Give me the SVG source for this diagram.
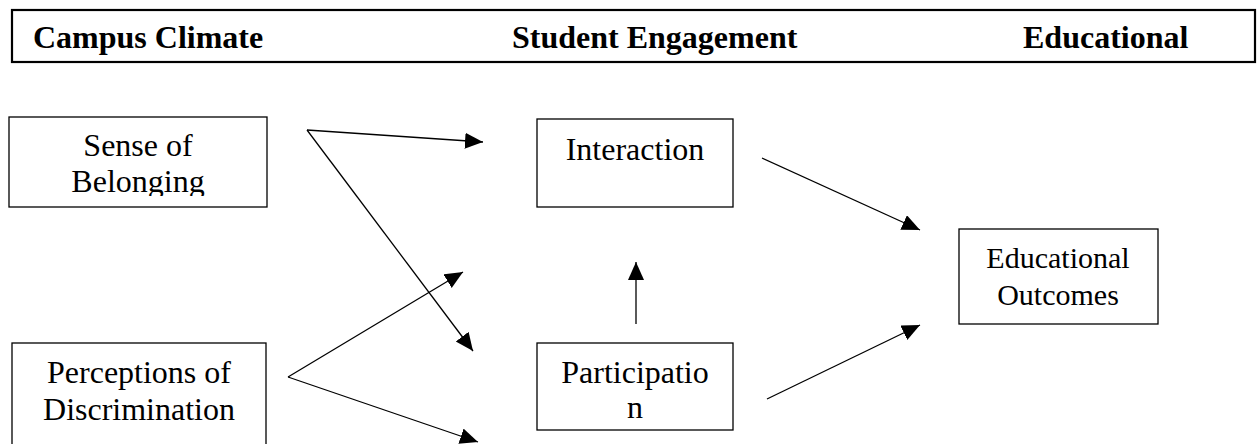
<svg xmlns="http://www.w3.org/2000/svg" width="1257" height="444" viewBox="0 0 1257 444">
  <style>
    .box { fill: #fff; stroke: #000; stroke-width: 1.3; }
    .hdr { fill: #fff; stroke: #000; stroke-width: 2.2; }
    .head { font-family: "Liberation Serif", "Times New Roman", serif; font-weight: bold; font-size: 32px; fill: #000; }
    .lbl { font-family: "Liberation Serif", "Times New Roman", serif; font-size: 32px; fill: #000; text-anchor: middle; }
    .edge { stroke: #000; stroke-width: 1.3; fill: none; marker-end: url(#tri); }
  </style>
  <defs>
    <marker id="tri" markerUnits="userSpaceOnUse" markerWidth="19" markerHeight="17" refX="18" refY="8" orient="auto">
      <path d="M0,0 L18,8 L0,16 z" fill="#000"/>
    </marker>
    <clipPath id="hdrClip"><rect x="12" y="10" width="1244" height="50"/></clipPath>
    <clipPath id="sobClip"><rect x="9" y="117" width="258" height="79"/></clipPath>
  </defs>
  <rect width="1257" height="444" fill="#fff"/>

  <!-- column headings -->
  <g id="header">
    <rect class="hdr" x="12" y="10" width="1243" height="52"/>
    <g clip-path="url(#hdrClip)">
      <text class="head" x="33" y="48">Campus Climate</text>
      <text class="head" x="512" y="48">Student Engagement</text>
      <text class="head" x="1023" y="48">Educational</text>
    </g>
  </g>

  <!-- connectors -->
  <g id="connectors">
    <line class="edge" x1="307" y1="130" x2="483" y2="142"/>
    <line class="edge" x1="307" y1="130" x2="473" y2="351"/>
    <line class="edge" x1="288" y1="377" x2="463" y2="272"/>
    <line class="edge" x1="288" y1="377" x2="478" y2="442"/>
    <line class="edge" x1="636" y1="324" x2="636" y2="262"/>
    <line class="edge" x1="762" y1="158" x2="920" y2="230"/>
    <line class="edge" x1="767" y1="399" x2="920" y2="325"/>
  </g>

  <g id="sense-of-belonging">
    <rect class="box" x="9" y="117" width="258" height="90"/>
    <g clip-path="url(#sobClip)">
      <text class="lbl" x="138" y="156">Sense of</text>
      <text class="lbl" x="138" y="192">Belonging</text>
    </g>
  </g>

  <g id="perceptions-of-discrimination">
    <rect class="box" x="12" y="343" width="254" height="120"/>
    <text class="lbl" x="139" y="383">Perceptions of</text>
    <text class="lbl" x="139" y="420">Discrimination</text>
  </g>

  <g id="interaction">
    <rect class="box" x="537" y="119" width="196" height="88"/>
    <text class="lbl" x="635" y="160">Interaction</text>
  </g>

  <g id="participation">
    <rect class="box" x="537" y="343" width="196" height="87"/>
    <text class="lbl" x="635" y="383">Participatio</text>
    <text class="lbl" x="635" y="418">n</text>
  </g>

  <g id="educational-outcomes">
    <rect class="box" x="959" y="229" width="199" height="95"/>
    <text class="lbl" x="1058" y="268" style="font-size:30px">Educational</text>
    <text class="lbl" x="1058" y="305" style="font-size:30px">Outcomes</text>
  </g>
</svg>
